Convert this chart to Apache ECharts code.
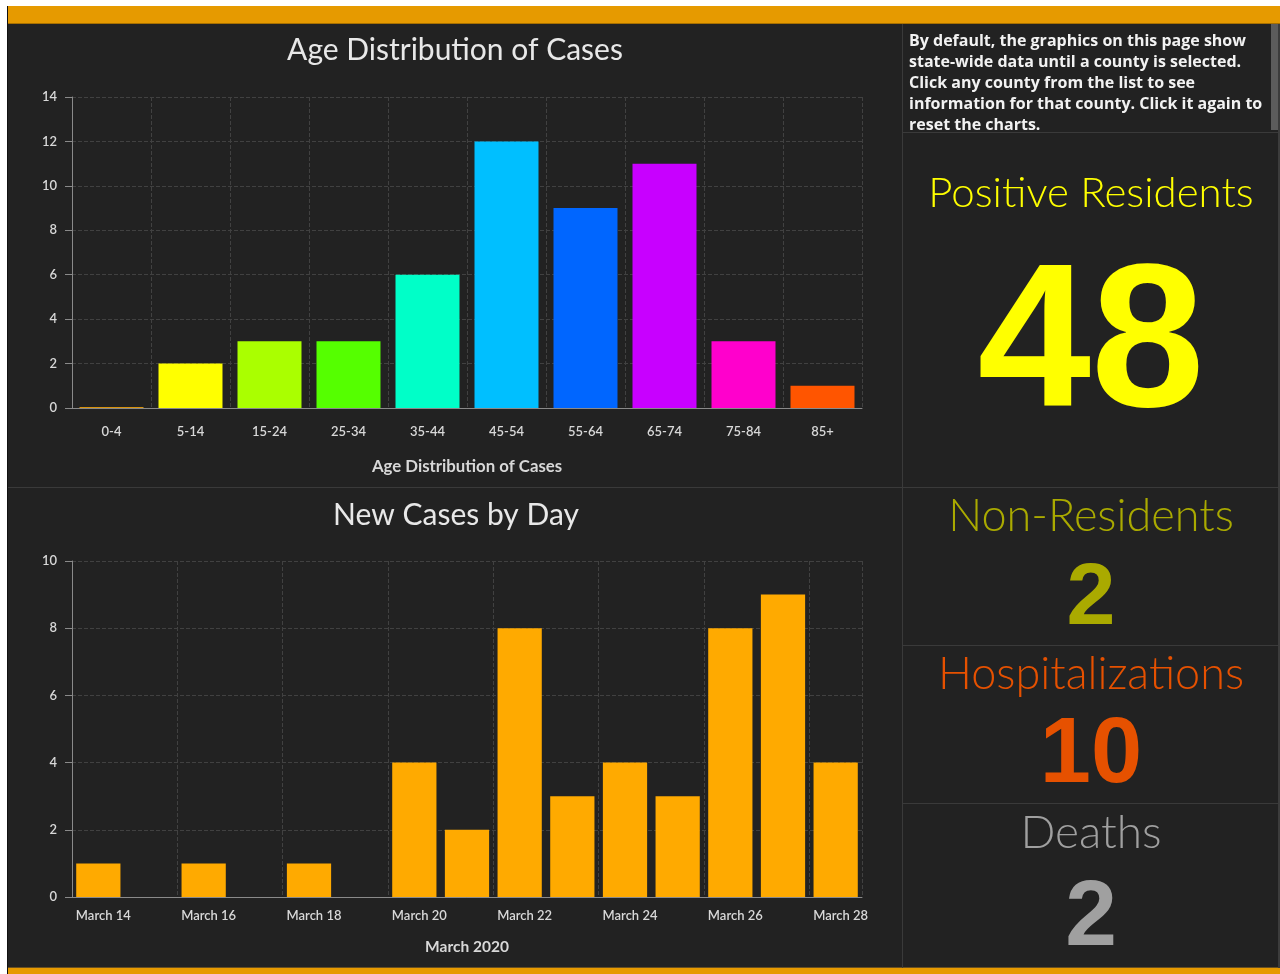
<!DOCTYPE html>
<html>
<head>
<meta charset="utf-8">
<script src="https://cdn.jsdelivr.net/npm/echarts@6/dist/echarts.min.js"></script>
<style>
html,body{margin:0;padding:0;background:#ffffff;}
#chart{width:1280px;height:974px;}
</style>
</head>
<body>
<div id="chart"></div>
<script>
// ---- data ----
const ageCategories = ['0-4','5-14','15-24','25-34','35-44','45-54','55-64','65-74','75-84','85+'];
const ageValues = [0, 2, 3, 3, 6, 12, 9, 11, 3, 1];
const ageColors = ['#d8920c','#ffff00','#aaff00','#55ff00','#00ffc8','#00bfff','#0066ff','#c800ff','#ff00cc','#ff5500'];
const dayCategories = ['March 14','March 15','March 16','March 17','March 18','March 19','March 20','March 21','March 22','March 23','March 24','March 25','March 26','March 27','March 28'];
const dayValues = [1, 0, 1, 0, 1, 0, 4, 2, 8, 3, 4, 3, 8, 9, 4];
const ageTicks = [0, 2, 4, 6, 8, 10, 12, 14];
const dayTicks = [0, 2, 4, 6, 8, 10];
const kpis = [
  {label: 'Positive Residents', value: 48},
  {label: 'Non-Residents', value: 2},
  {label: 'Hospitalizations', value: 10},
  {label: 'Deaths', value: 2}
];
const infoLines = [
  'By default, the graphics on this page show',
  'state-wide data until a county is selected.',
  'Click any county from the list to see',
  'information for that county. Click it again to',
  'reset the charts.'
];

const FONT = 'Lato, "Open Sans", sans-serif';
const labelColor = '#d8d8d8';
const axisLineColor = '#8a8a8a';
const splitColor = '#414141';

const chart = echarts.init(document.getElementById('chart'), null, {renderer: 'canvas'});

const kpiStyle = [
  {labelY: 193, valueY: 350, labelSize: 42, valueSize: 204, color: '#ffff00'},
  {labelY: 516, valueY: 600, labelSize: 45, valueSize: 88, color: '#aaaa00'},
  {labelY: 674, valueY: 757, labelSize: 45, valueSize: 92, color: '#e65100'},
  {labelY: 833, valueY: 919, labelSize: 46, valueSize: 93, color: '#a0a0a0'}
];

const graphics = [
  {type:'rect', z:-1, shape:{x:0,y:0,width:1280,height:6}, style:{fill:'#ffffff'}},
  {type:'rect', z:-1, shape:{x:0,y:0,width:7,height:974}, style:{fill:'#ffffff'}},
  {type:'rect', z:-1, shape:{x:7,y:6,width:1,height:968}, style:{fill:'#111111'}},
  {type:'rect', shape:{x:8,y:6,width:1272,height:17}, style:{fill:'#e69a00'}},
  {type:'rect', shape:{x:8,y:23,width:1272,height:1}, style:{fill:'#a87000'}},
  {type:'rect', shape:{x:8,y:968,width:1272,height:6}, style:{fill:'#e69a00'}},
  {type:'rect', shape:{x:8,y:967,width:1272,height:1}, style:{fill:'#6a5020'}},
  {type:'rect', shape:{x:902,y:24,width:1,height:944}, style:{fill:'#3a3a3a'}},
  {type:'rect', shape:{x:8,y:487,width:1270,height:1}, style:{fill:'#3a3a3a'}},
  {type:'rect', shape:{x:902,y:132,width:376,height:1}, style:{fill:'#3a3a3a'}},
  {type:'rect', shape:{x:902,y:645,width:376,height:1}, style:{fill:'#3a3a3a'}},
  {type:'rect', shape:{x:902,y:803,width:376,height:1}, style:{fill:'#3a3a3a'}},
  {type:'rect', shape:{x:1271,y:24,width:7,height:106}, style:{fill:'#5c5c5c'}},
  {type:'rect', shape:{x:1278,y:24,width:2,height:944}, style:{fill:'#3c3c3c'}}
];
infoLines.forEach((t, i) => {
  graphics.push({type:'text', x:909, y:41 + i*21, style:{text:t, fill:'#f2f2f2', font:'bold 16px "Open Sans", sans-serif', align:'left', verticalAlign:'middle'}});
});
kpis.forEach((k, i) => {
  const s = kpiStyle[i];
  graphics.push({type:'text', x:1091, y:s.labelY, style:{text:k.label, fill:s.color, font:'300 ' + s.labelSize + 'px ' + FONT, align:'center', verticalAlign:'middle'}});
  graphics.push({type:'text', x:1091, y:s.valueY, style:{text:String(k.value), fill:s.color, font:'bold ' + s.valueSize + 'px "Liberation Sans", Arial, sans-serif', align:'center', verticalAlign:'middle'}});
});

const yLabel = {color: labelColor, fontSize: 13, fontWeight: 600, fontFamily: FONT, margin: 15};

const option = {
  backgroundColor: '#222222',
  animation: false,
  title: [
    {text: 'Age Distribution of Cases', left: 450, top: 45, textAlign: 'center', textVerticalAlign: 'middle',
     textStyle: {color: '#e8e8e8', fontSize: 30, fontWeight: 'normal', fontFamily: FONT}},
    {text: 'New Cases by Day', left: 451, top: 510, textAlign: 'center', textVerticalAlign: 'middle',
     textStyle: {color: '#e8e8e8', fontSize: 30, fontWeight: 'normal', fontFamily: FONT}}
  ],
  grid: [
    {left: 72, right: 418, top: 97, bottom: 566, containLabel: false},
    {left: 72, right: 418, top: 561, bottom: 77, containLabel: false}
  ],
  xAxis: [
    {type: 'category', gridIndex: 0, data: ageCategories,
     name: 'Age Distribution of Cases', nameLocation: 'middle', nameGap: 50,
     nameTextStyle: {color: labelColor, fontSize: 16.8, fontWeight: 'bold', fontFamily: FONT},
     axisLine: {lineStyle: {color: axisLineColor}},
     axisTick: {alignWithLabel: true, length: 5, lineStyle: {color: axisLineColor}},
     axisLabel: {color: labelColor, fontSize: 13, fontWeight: 600, fontFamily: FONT, margin: 17, interval: 0},
     splitLine: {show: true, lineStyle: {color: splitColor, type: 'dashed'}}},
    {type: 'category', gridIndex: 1, data: dayCategories,
     name: 'March 2020', nameLocation: 'middle', nameGap: 42,
     nameTextStyle: {color: labelColor, fontSize: 15.5, fontWeight: 'bold', fontFamily: FONT},
     axisLine: {lineStyle: {color: axisLineColor}},
     axisTick: {interval: 1, length: 6, lineStyle: {color: axisLineColor}},
     axisLabel: {color: labelColor, fontSize: 13, fontWeight: 600, fontFamily: FONT, margin: 12, interval: 1, padding: [0,0,0,10]},
     splitLine: {show: true, interval: 1, lineStyle: {color: splitColor, type: 'dashed'}}}
  ],
  yAxis: [
    {type: 'value', gridIndex: 0, min: ageTicks[0], max: ageTicks[ageTicks.length-1], interval: ageTicks[1]-ageTicks[0],
     axisLine: {show: true, lineStyle: {color: axisLineColor}},
     axisTick: {show: true, length: 7, lineStyle: {color: axisLineColor}},
     axisLabel: yLabel,
     splitLine: {lineStyle: {color: splitColor, type: 'dashed'}}},
    {type: 'value', gridIndex: 1, min: dayTicks[0], max: dayTicks[dayTicks.length-1], interval: dayTicks[1]-dayTicks[0],
     axisLine: {show: true, lineStyle: {color: axisLineColor}},
     axisTick: {show: true, length: 7, lineStyle: {color: axisLineColor}},
     axisLabel: yLabel,
     splitLine: {lineStyle: {color: splitColor, type: 'dashed'}}}
  ],
  series: [
    {type: 'bar', xAxisIndex: 0, yAxisIndex: 0, barCategoryGap: '19%', barMinHeight: 1,
     data: ageValues.map((v, i) => ({value: v, itemStyle: {color: ageColors[i]}}))},
    {type: 'bar', xAxisIndex: 1, yAxisIndex: 1, barCategoryGap: '16%',
     itemStyle: {color: '#ffaa00'},
     data: dayValues}
  ],
  graphic: {elements: graphics}
};
chart.setOption(option);
</script>
</body>
</html>
